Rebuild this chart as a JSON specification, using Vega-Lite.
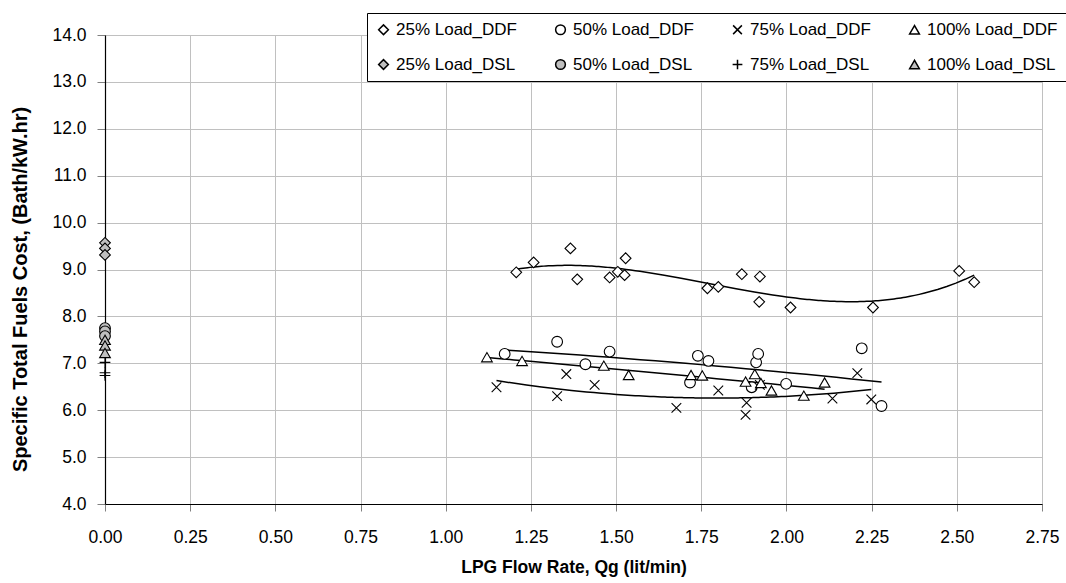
{
  "$schema": "https://vega.github.io/schema/vega-lite/v6.json",
  "width": 937,
  "height": 469,
  "autosize": "none",
  "padding": {"left": 105, "top": 35, "right": 24, "bottom": 79},
  "background": "white",
  "config": {
    "font": "Liberation Sans",
    "view": {"stroke": "#808080", "strokeWidth": 1},
    "axis": {
      "labelFont": "Liberation Sans",
      "labelFontSize": 17.5,
      "labelColor": "black",
      "labelFlush": false,
      "titleFont": "Liberation Sans",
      "titleFontWeight": "bold",
      "titleColor": "black",
      "gridColor": "#c0c0c0",
      "gridWidth": 1,
      "domainColor": "black",
      "domainWidth": 1.2,
      "tickColor": "#808080",
      "tickSize": 8
    }
  },
  "data": {
    "values": [
      {"flow": 1.207, "cost": 8.94, "series": "25% Load_DDF", "fuel": "DDF"},
      {"flow": 1.258, "cost": 9.15, "series": "25% Load_DDF", "fuel": "DDF"},
      {"flow": 1.366, "cost": 9.45, "series": "25% Load_DDF", "fuel": "DDF"},
      {"flow": 1.386, "cost": 8.79, "series": "25% Load_DDF", "fuel": "DDF"},
      {"flow": 1.481, "cost": 8.83, "series": "25% Load_DDF", "fuel": "DDF"},
      {"flow": 1.505, "cost": 8.95, "series": "25% Load_DDF", "fuel": "DDF"},
      {"flow": 1.525, "cost": 8.88, "series": "25% Load_DDF", "fuel": "DDF"},
      {"flow": 1.528, "cost": 9.24, "series": "25% Load_DDF", "fuel": "DDF"},
      {"flow": 1.768, "cost": 8.60, "series": "25% Load_DDF", "fuel": "DDF"},
      {"flow": 1.800, "cost": 8.63, "series": "25% Load_DDF", "fuel": "DDF"},
      {"flow": 1.869, "cost": 8.90, "series": "25% Load_DDF", "fuel": "DDF"},
      {"flow": 1.922, "cost": 8.85, "series": "25% Load_DDF", "fuel": "DDF"},
      {"flow": 1.920, "cost": 8.31, "series": "25% Load_DDF", "fuel": "DDF"},
      {"flow": 2.012, "cost": 8.19, "series": "25% Load_DDF", "fuel": "DDF"},
      {"flow": 2.254, "cost": 8.19, "series": "25% Load_DDF", "fuel": "DDF"},
      {"flow": 2.507, "cost": 8.97, "series": "25% Load_DDF", "fuel": "DDF"},
      {"flow": 2.551, "cost": 8.73, "series": "25% Load_DDF", "fuel": "DDF"},

      {"flow": 1.173, "cost": 7.20, "series": "50% Load_DDF", "fuel": "DDF"},
      {"flow": 1.327, "cost": 7.46, "series": "50% Load_DDF", "fuel": "DDF"},
      {"flow": 1.410, "cost": 6.98, "series": "50% Load_DDF", "fuel": "DDF"},
      {"flow": 1.481, "cost": 7.25, "series": "50% Load_DDF", "fuel": "DDF"},
      {"flow": 1.717, "cost": 6.59, "series": "50% Load_DDF", "fuel": "DDF"},
      {"flow": 1.740, "cost": 7.16, "series": "50% Load_DDF", "fuel": "DDF"},
      {"flow": 1.771, "cost": 7.05, "series": "50% Load_DDF", "fuel": "DDF"},
      {"flow": 1.898, "cost": 6.49, "series": "50% Load_DDF", "fuel": "DDF"},
      {"flow": 1.911, "cost": 7.02, "series": "50% Load_DDF", "fuel": "DDF"},
      {"flow": 1.917, "cost": 7.20, "series": "50% Load_DDF", "fuel": "DDF"},
      {"flow": 1.999, "cost": 6.56, "series": "50% Load_DDF", "fuel": "DDF"},
      {"flow": 2.221, "cost": 7.32, "series": "50% Load_DDF", "fuel": "DDF"},
      {"flow": 2.279, "cost": 6.09, "series": "50% Load_DDF", "fuel": "DDF"},

      {"flow": 1.149, "cost": 6.49, "series": "75% Load_DDF", "fuel": "DDF"},
      {"flow": 1.327, "cost": 6.30, "series": "75% Load_DDF", "fuel": "DDF"},
      {"flow": 1.354, "cost": 6.77, "series": "75% Load_DDF", "fuel": "DDF"},
      {"flow": 1.437, "cost": 6.54, "series": "75% Load_DDF", "fuel": "DDF"},
      {"flow": 1.677, "cost": 6.05, "series": "75% Load_DDF", "fuel": "DDF"},
      {"flow": 1.800, "cost": 6.42, "series": "75% Load_DDF", "fuel": "DDF"},
      {"flow": 1.880, "cost": 5.90, "series": "75% Load_DDF", "fuel": "DDF"},
      {"flow": 1.883, "cost": 6.16, "series": "75% Load_DDF", "fuel": "DDF"},
      {"flow": 1.922, "cost": 6.54, "series": "75% Load_DDF", "fuel": "DDF"},
      {"flow": 2.135, "cost": 6.25, "series": "75% Load_DDF", "fuel": "DDF"},
      {"flow": 2.208, "cost": 6.79, "series": "75% Load_DDF", "fuel": "DDF"},
      {"flow": 2.249, "cost": 6.23, "series": "75% Load_DDF", "fuel": "DDF"},

      {"flow": 1.121, "cost": 7.13, "series": "100% Load_DDF", "fuel": "DDF"},
      {"flow": 1.224, "cost": 7.05, "series": "100% Load_DDF", "fuel": "DDF"},
      {"flow": 1.464, "cost": 6.95, "series": "100% Load_DDF", "fuel": "DDF"},
      {"flow": 1.537, "cost": 6.75, "series": "100% Load_DDF", "fuel": "DDF"},
      {"flow": 1.720, "cost": 6.75, "series": "100% Load_DDF", "fuel": "DDF"},
      {"flow": 1.753, "cost": 6.74, "series": "100% Load_DDF", "fuel": "DDF"},
      {"flow": 1.880, "cost": 6.61, "series": "100% Load_DDF", "fuel": "DDF"},
      {"flow": 1.907, "cost": 6.77, "series": "100% Load_DDF", "fuel": "DDF"},
      {"flow": 1.925, "cost": 6.58, "series": "100% Load_DDF", "fuel": "DDF"},
      {"flow": 1.956, "cost": 6.42, "series": "100% Load_DDF", "fuel": "DDF"},
      {"flow": 2.051, "cost": 6.31, "series": "100% Load_DDF", "fuel": "DDF"},
      {"flow": 2.112, "cost": 6.59, "series": "100% Load_DDF", "fuel": "DDF"},

      {"flow": 0, "cost": 9.57, "series": "25% Load_DSL", "fuel": "DSL"},
      {"flow": 0, "cost": 9.45, "series": "25% Load_DSL", "fuel": "DSL"},
      {"flow": 0, "cost": 9.31, "series": "25% Load_DSL", "fuel": "DSL"},
      {"flow": 0, "cost": 7.75, "series": "50% Load_DSL", "fuel": "DSL"},
      {"flow": 0, "cost": 7.68, "series": "50% Load_DSL", "fuel": "DSL"},
      {"flow": 0, "cost": 7.58, "series": "50% Load_DSL", "fuel": "DSL"},
      {"flow": 0, "cost": 7.02, "series": "75% Load_DSL", "fuel": "DSL"},
      {"flow": 0, "cost": 6.80, "series": "75% Load_DSL", "fuel": "DSL"},
      {"flow": 0, "cost": 6.74, "series": "75% Load_DSL", "fuel": "DSL"},
      {"flow": 0, "cost": 7.50, "series": "100% Load_DSL", "fuel": "DSL"},
      {"flow": 0, "cost": 7.38, "series": "100% Load_DSL", "fuel": "DSL"},
      {"flow": 0, "cost": 7.22, "series": "100% Load_DSL", "fuel": "DSL"}
    ]
  },
  "encoding": {
    "x": {
      "field": "flow",
      "type": "quantitative",
      "scale": {"domain": [0, 2.75], "nice": false, "zero": false},
      "axis": {
        "title": "LPG Flow Rate, Qg (lit/min)",
        "titleFontSize": 17.5,
        "values": [0, 0.25, 0.5, 0.75, 1, 1.25, 1.5, 1.75, 2, 2.25, 2.5, 2.75],
        "format": ".2f",
        "labelPadding": 17,
        "titlePadding": 13,
        "tickSize": 7
      }
    },
    "y": {
      "field": "cost",
      "type": "quantitative",
      "scale": {"domain": [4, 14], "nice": false, "zero": false},
      "axis": {
        "title": "Specific Total Fuels Cost, (Bath/kW.hr)",
        "titleFontSize": 20,
        "titleY": 254,
        "values": [4, 5, 6, 7, 8, 9, 10, 11, 12, 13, 14],
        "format": ".1f",
        "labelPadding": 11,
        "titlePadding": 21
      }
    }
  },
  "layer": [
    {
      "transform": [
        {"filter": "datum.series === '25% Load_DDF'"},
        {"regression": "cost", "on": "flow", "method": "poly", "order": 3}
      ],
      "mark": {"type": "line", "color": "black", "strokeWidth": 1.5, "clip": true}
    },
    {
      "transform": [
        {"filter": "datum.fuel === 'DDF' && datum.series !== '25% Load_DDF'"},
        {"regression": "cost", "on": "flow", "groupby": ["series"], "method": "poly", "order": 2}
      ],
      "mark": {"type": "line", "color": "black", "strokeWidth": 1.5, "clip": true},
      "encoding": {"detail": {"field": "series"}}
    },
    {
      "mark": {"type": "point", "filled": true, "stroke": "black", "strokeWidth": 1.1, "opacity": 1, "size": 115},
      "encoding": {
        "shape": {
          "field": "series",
          "type": "nominal",
          "scale": {
            "domain": ["25% Load_DDF", "50% Load_DDF", "75% Load_DDF", "100% Load_DDF", "25% Load_DSL", "50% Load_DSL", "75% Load_DSL", "100% Load_DSL"],
            "range": ["diamond", "circle", "M-0.9,-0.9L0.9,0.9M-0.9,0.9L0.9,-0.9", "triangle-up", "diamond", "circle", "M-1,0L1,0M0,-1L0,1", "triangle-up"]
          },
          "legend": {
            "title": null,
            "orient": "none",
            "legendX": 262,
            "legendY": -22,
            "direction": "horizontal",
            "columns": 4,
            "fillColor": "white",
            "strokeColor": "black",
            "padding": 8,
            "rowPadding": 17,
            "columnPadding": 35,
            "symbolSize": 95,
            "symbolOpacity": 1,
            "labelFont": "Liberation Sans",
            "labelFontSize": 17,
            "labelColor": "black",
            "labelOffset": 4,
            "labelLimit": 220,
            "encode": {
              "symbols": {
                "update": {
                  "stroke": {"value": "black"},
                  "strokeWidth": {"value": 1}
                }
              }
            }
          }
        },
        "fill": {
          "field": "series",
          "type": "nominal",
          "scale": {
            "domain": ["25% Load_DDF", "50% Load_DDF", "75% Load_DDF", "100% Load_DDF", "25% Load_DSL", "50% Load_DSL", "75% Load_DSL", "100% Load_DSL"],
            "range": ["white", "white", "white", "white", "#bfbfbf", "#bfbfbf", "#bfbfbf", "#bfbfbf"]
          }
        }
      }
    }
  ]
}
